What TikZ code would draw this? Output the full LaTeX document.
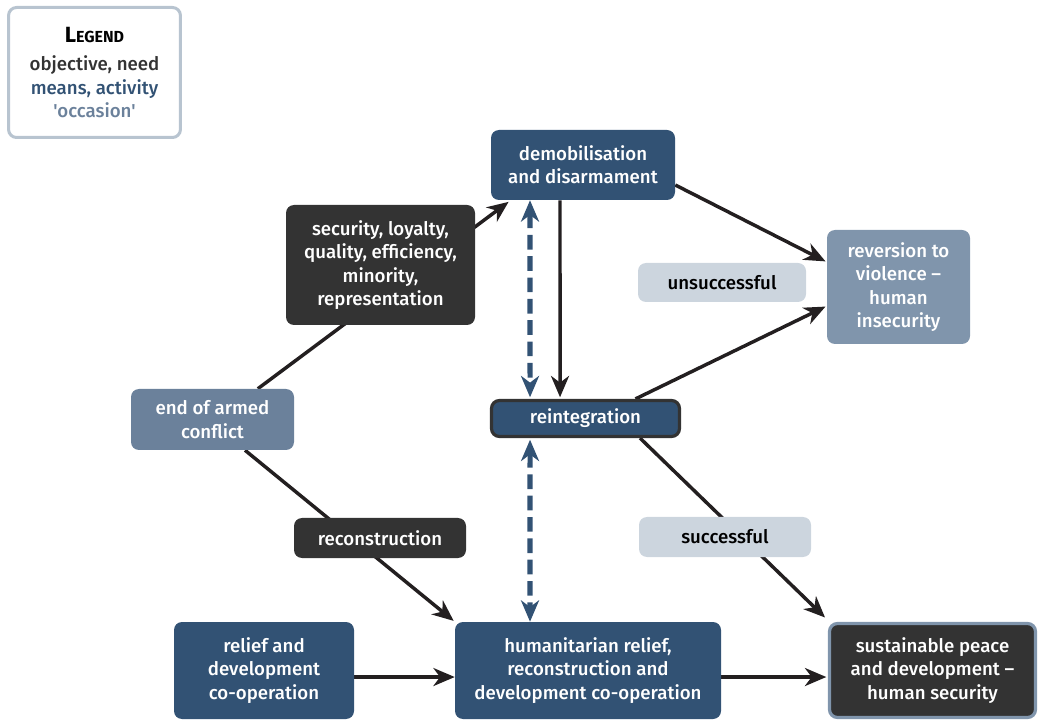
\documentclass[tikz,border=0pt]{standalone}
\usepackage{fontspec}
\IfFontExistsTF{Fira Sans Medium}{\setmainfont{Fira Sans Medium}[BoldFont={Fira Sans Bold}]\newfontfamily\plainfont{Fira Sans Medium}}{\setmainfont{Fira Sans}\newfontfamily\plainfont{Fira Sans}}
\usetikzlibrary{arrows.meta}
\definecolor{dblue}{HTML}{325274}
\definecolor{charcoal}{HTML}{333333}
\definecolor{greyblue}{HTML}{8095AC}
\definecolor{midblue}{HTML}{6B819B}
\definecolor{lightgrey}{HTML}{CCD5DE}
\definecolor{legborder}{HTML}{B8C4D0}
\definecolor{arrowblack}{HTML}{231F20}
\pgfdeclarelayer{bg}
\pgfsetlayers{bg,main}
\begin{document}
\begin{tikzpicture}[x=0.75pt,y=-0.75pt,
  font=\fontsize{14}{17.5}\selectfont,
  box/.style={rounded corners=6pt, inner sep=0pt, align=center, text=white},
  conn/.style={line width=2.6pt, draw=arrowblack, -{Stealth[length=16pt,width=13.5pt,inset=5pt]}},
  dconn/.style={line width=3.8pt, draw=dblue, dash pattern=on 11pt off 5pt,
     {Stealth[length=16pt,width=13.5pt,inset=5pt]}-{Stealth[length=16pt,width=13.5pt,inset=5pt]}}]
\useasboundingbox (0,0) rectangle (1040,720);

% legend
\node[box, text=black, fill=white, draw=legborder, line width=2.25pt,
      minimum width=128.9pt, minimum height=97.5pt] (legend) at (94.5,72.5)
  {{\bfseries\fontsize{16.5}{17}\selectfont L\fontsize{12}{17}\selectfont EGEND}\\[4pt]
   {\color{charcoal}objective, need}\\
   {\color{dblue}means, activity}\\
   {\color{midblue}\plainfont 'occasion'}};

% main nodes
\node[box, fill=dblue, minimum width=138pt, minimum height=52.5pt] (demob) at (583,165)
  {demobilisation\\and disarmament};
\node[box, fill=charcoal, minimum width=141.75pt, minimum height=90pt] (secur) at (380.5,265)
  {security, loyalty,\\quality, efficiency,\\minority,\\representation};
\node[box, fill=greyblue, minimum width=107.25pt, minimum height=85.5pt] (rever) at (898.5,287)
  {reversion to\\violence --\\human\\insecurity};
\node[box, fill=lightgrey, text=black, minimum width=126pt, minimum height=29.25pt] (unsucc) at (722,282.5)
  {unsuccessful};
\node[box, fill=midblue, minimum width=122.25pt, minimum height=45.75pt] (endarm) at (212.5,419.5)
  {end of armed\\conflict};
\node[box, fill=dblue, draw=charcoal, line width=2.4pt, minimum width=141pt, minimum height=27pt] (reint) at (585.5,418.5)
  {reintegration};
\node[box, fill=charcoal, minimum width=129pt, minimum height=30pt] (recon) at (380,538)
  {reconstruction};
\node[box, fill=lightgrey, text=black, minimum width=129pt, minimum height=30pt] (succ) at (725,537)
  {successful};
\node[box, fill=dblue, minimum width=135pt, minimum height=72.75pt] (relief) at (264,670.5)
  {relief and\\development\\co-operation};
\node[box, fill=dblue, minimum width=199.5pt, minimum height=72.75pt] (human) at (588,670.5)
  {humanitarian relief,\\reconstruction and\\development co-operation};
\node[box, fill=charcoal, draw=greyblue, line width=2.4pt, minimum width=154.5pt, minimum height=70.5pt] (sustain) at (932.5,670.5)
  {sustainable peace\\and development --\\human security};

% connectors
\begin{pgfonlayer}{bg}
\draw[conn, shorten >=2pt] ([xshift=34pt]endarm.north) -- ([xshift=15pt]demob.south west);
\draw[conn, shorten >=1pt] ([xshift=24.4pt]endarm.south) -- (human.north west);
\draw[conn, shorten >=1pt] ([yshift=-15pt]demob.east) -- ([yshift=18.75pt]rever.west);
\draw[conn] ([xshift=-17.25pt]demob.south) -- ([xshift=-19.1pt,yshift=1.2pt]reint.north);
\draw[dconn] ([xshift=-39.75pt]demob.south) -- ([xshift=-41.6pt,yshift=1.2pt]reint.north);
\draw[dconn] ([xshift=-41.6pt,yshift=-1.2pt]reint.south) -- ([xshift=-43.5pt]human.north);
\draw[conn, shorten >=1pt] ([xshift=37.5pt]reint.north) -- ([yshift=-14.25pt]rever.west);
\draw[conn, shorten >=3pt] ([xshift=40.9pt]reint.south) -- ([shift={(0pt,1.2pt)}]sustain.north west);
\draw[conn] ([yshift=-4.9pt]relief.east) -- ([yshift=-4.9pt]human.west);
\draw[conn] ([yshift=-4.9pt]human.east) -- ([xshift=-1.2pt,yshift=-4.9pt]sustain.west);
\end{pgfonlayer}
\end{tikzpicture}
\end{document}
